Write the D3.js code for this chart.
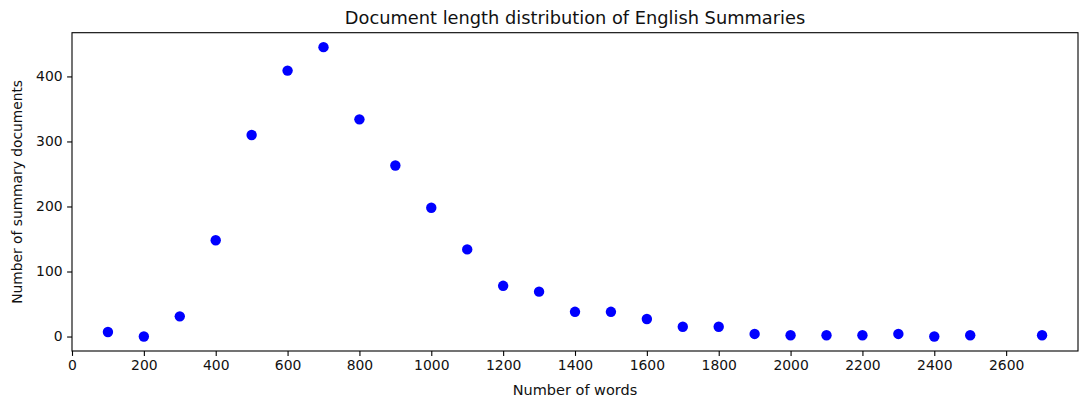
<!DOCTYPE html>
<html>
<head>
<meta charset="utf-8">
<script src="https://cdn.jsdelivr.net/npm/d3@7"></script>
<style>
  body { margin: 0; background: #fff; }
  svg { display: block; font-family: "DejaVu Sans", sans-serif; }
</style>
</head>
<body>
<div id="container"></div>
<script>
const width = 1084;
const height = 405;
const margin = {top: 32.7, right: 6, bottom: 54, left: 72};

//------------------DATA------------------//
const words = [100, 200, 300, 400, 500, 600, 700, 800, 900, 1000, 1100, 1200, 1300, 1400,
  1500, 1600, 1700, 1800, 1900, 2000, 2100, 2200, 2300, 2400, 2500, 2700];
const docs = [7, 0, 31, 148, 310, 409, 445, 334, 263, 198, 134, 78, 69, 38,
  38, 27, 15, 15, 4, 2, 2, 2, 4, 0, 2, 2];
const xTicks = [0, 200, 400, 600, 800, 1000, 1200, 1400, 1600, 1800, 2000, 2200, 2400, 2600];
const yTicks = [0, 100, 200, 300, 400];

const points = words.map(function(w, i) { return {w: w, n: docs[i]}; });

//------------------SVG------------------//
const svg = d3.select("#container").append("svg")
  .attr("width", width)
  .attr("height", height);

const innerW = width - margin.left - margin.right;
const innerH = height - margin.top - margin.bottom;

//------------------SCALES------------------//
const yPad = (d3.max(docs) - 0) * 0.05;
const xScale = d3.scaleLinear().domain([0, 2800]).range([margin.left, margin.left + innerW]);
const yScale = d3.scaleLinear().domain([0 - yPad, d3.max(docs) + yPad]).range([margin.top + innerH, margin.top]);

//------------------AXES------------------//
const xaxis = d3.axisBottom(xScale)
  .tickValues(xTicks)
  .tickFormat(d3.format("d"))
  .tickSize(4.9)
  .tickPadding(4.5);

const yaxis = d3.axisLeft(yScale)
  .tickValues(yTicks)
  .tickFormat(d3.format("d"))
  .tickSize(4.9)
  .tickPadding(4.5);

const gx = svg.append("g")
  .attr("transform", "translate(0," + (margin.top + innerH) + ")")
  .call(xaxis);

const gy = svg.append("g")
  .attr("transform", "translate(" + margin.left + ",0)")
  .call(yaxis);

[gx, gy].forEach(function(g) {
  g.select(".domain").remove();
  g.selectAll(".tick line").attr("stroke", "#000").attr("stroke-width", 1.1);
  g.selectAll(".tick text")
    .attr("fill", "#111")
    .style("font-size", "13.9px")
    .style("font-family", "DejaVu Sans, sans-serif");
});

// frame
svg.append("rect")
  .attr("x", margin.left)
  .attr("y", margin.top)
  .attr("width", innerW)
  .attr("height", innerH)
  .attr("fill", "none")
  .attr("stroke", "#000")
  .attr("stroke-width", 1.1);

//------------------POINTS------------------//
svg.selectAll("circle.pt")
  .data(points)
  .enter()
  .append("circle")
  .attr("class", "pt")
  .attr("cx", function(d) { return xScale(d.w); })
  .attr("cy", function(d) { return yScale(d.n); })
  .attr("r", 5.2)
  .style("fill", "#0000ff");

//------------------LABELS------------------//
svg.append("text")
  .attr("x", margin.left + innerW / 2)
  .attr("y", 24.4)
  .attr("text-anchor", "middle")
  .attr("fill", "#111")
  .style("font-size", "17.8px")
  .text("Document length distribution of English Summaries");

svg.append("text")
  .attr("x", margin.left + innerW / 2)
  .attr("y", 394.5)
  .attr("text-anchor", "middle")
  .attr("fill", "#111")
  .style("font-size", "14.5px")
  .text("Number of words");

svg.append("text")
  .attr("transform", "translate(22," + (margin.top + innerH / 2) + ") rotate(-90)")
  .attr("text-anchor", "middle")
  .attr("fill", "#111")
  .style("font-size", "13.8px")
  .text("Number of summary documents");
</script>
</body>
</html>
